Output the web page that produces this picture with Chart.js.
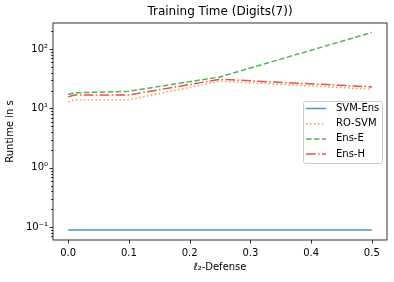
<!DOCTYPE html>
<html>
<head>
<meta charset="utf-8">
<script src="https://cdn.jsdelivr.net/npm/chart.js@4/dist/chart.umd.min.js"></script>
<style>
  html, body { margin: 0; padding: 0; background: #fff; }
  #wrap { width: 394px; height: 282px; }
</style>
</head>
<body>
<div id="wrap"><canvas id="c" width="394" height="282"></canvas></div>
<script>
// values (log y axis, seconds)
const defense  = [0, 0.01, 0.1, 0.25, 0.5];
const svmEns   = [0.09, 0.09, 0.09, 0.09, 0.09];
const roSvm    = [12.9, 14.0, 14.0, 28.8, 21.1];
const ensE     = [17.2, 18.3, 19.5, 34, 191];
const ensH     = [15.7, 16.9, 16.9, 31, 23.1];
const xTicks   = [0, 0.1, 0.2, 0.3, 0.4, 0.5];

const FONT = 'DejaVu Sans';
const sup = { '-': '\u207B', '0': '\u2070', '1': '\u00B9', '2': '\u00B2', '3': '\u00B3' };
const pow10Label = e => '10' + String(e).split('').map(c => sup[c]).join('');

const series = [
  { label: 'SVM-Ens', data: svmEns, color: 'rgba(31,119,180,0.8)',  dash: [] },
  { label: 'RO-SVM',  data: roSvm,  color: 'rgba(255,127,14,0.8)',  dash: [1.5, 2.475] },
  { label: 'Ens-E',   data: ensE,   color: 'rgba(44,160,44,0.8)',   dash: [5.55, 2.4] },
  { label: 'Ens-H',   data: ensH,   color: 'rgba(214,39,40,0.8)',   dash: [9.6, 2.4, 1.5, 2.4] },
];

// frame, tick marks and the in-axes legend, matplotlib style
const mplBits = {
  id: 'mplBits',
  afterDraw(chart) {
    const { ctx, chartArea: a, scales } = chart;
    ctx.save();
    ctx.strokeStyle = '#000';
    ctx.lineWidth = 0.8;
    ctx.strokeRect(a.left, a.top, a.right - a.left, a.bottom - a.top);

    ctx.beginPath();
    scales.x.ticks.forEach(t => {
      const px = Math.round(scales.x.getPixelForValue(t.value)) + 0.5;
      ctx.moveTo(px, a.bottom); ctx.lineTo(px, a.bottom + 3.5);
    });
    scales.y.ticks.forEach(t => {
      const py = Math.round(scales.y.getPixelForValue(t.value)) + 0.5;
      const len = t.major ? 3.5 : 2;
      ctx.moveTo(a.left, py); ctx.lineTo(a.left - len, py);
    });
    ctx.stroke();

    // legend box
    const bx = 303.5, by = 101.5, bw = 79, bh = 62;
    ctx.fillStyle = 'rgba(255,255,255,0.8)';
    ctx.strokeStyle = '#cccccc';
    ctx.lineWidth = 1;
    ctx.beginPath();
    ctx.roundRect(bx, by, bw, bh, 2);
    ctx.fill(); ctx.stroke();

    ctx.font = '10px "' + FONT + '"';
    ctx.textBaseline = 'middle';
    ctx.textAlign = 'left';
    series.forEach((s, i) => {
      const y = 108.5 + i * 15.2;
      ctx.strokeStyle = s.color;
      ctx.lineWidth = 1.5;
      ctx.setLineDash(s.dash);
      ctx.beginPath();
      ctx.moveTo(306, y); ctx.lineTo(326, y);
      ctx.stroke();
      ctx.setLineDash([]);
      ctx.fillStyle = '#000';
      ctx.fillText(s.label, 336, y);
    });
    ctx.restore();
  }
};

new Chart(document.getElementById('c'), {
  type: 'line',
  data: {
    datasets: series.map(s => ({
      label: s.label,
      data: defense.map((x, i) => ({ x, y: s.data[i] })),
      borderColor: s.color,
      borderWidth: 1.5,
      borderDash: s.dash,
      pointRadius: 0,
      tension: 0,
      fill: false,
    })),
  },
  options: {
    responsive: false,
    animation: false,
    layout: { padding: { left: 0, right: 7, top: 0, bottom: 0 } },
    plugins: {
      legend: { display: false },
      tooltip: { enabled: false },
      title: {
        display: true,
        text: 'Training Time (Digits(7))',
        fullSize: false,
        color: '#000',
        font: { family: FONT, size: 12, weight: 'normal' },
        padding: { top: 5, bottom: 3.6 },
      },
    },
    scales: {
      x: {
        type: 'linear',
        min: -0.025,
        max: 0.525,
        grid: { display: false, drawTicks: false, tickLength: 0 },
        border: { display: false },
        afterBuildTicks: sc => { sc.ticks = xTicks.map(v => ({ value: v })); },
        afterFit: sc => { sc.height = 42; },
        ticks: {
          color: '#000',
          padding: 7,
          maxRotation: 0,
          autoSkip: false,
          font: { family: FONT, size: 10 },
          callback: v => v.toFixed(1),
        },
        title: {
          display: true,
          text: '\u2113\u2082-Defense',
          color: '#000',
          font: { family: FONT, size: 10 },
          padding: { top: 0, bottom: 9 },
        },
      },
      y: {
        type: 'logarithmic',
        min: 0.061,
        max: 275,
        grid: { display: false, drawTicks: false, tickLength: 0 },
        border: { display: false },
        afterBuildTicks: sc => {
          const t = [];
          for (let e = -2; e <= 2; e++) {
            for (let m = 1; m <= 9; m++) {
              const v = m * Math.pow(10, e);
              if (v >= sc.min && v <= sc.max) t.push({ value: v, major: m === 1 });
            }
          }
          sc.ticks = t;
        },
        afterFit: sc => { sc.width = 53; },
        ticks: {
          color: '#000',
          padding: 5,
          autoSkip: false,
          font: { family: FONT, size: 10 },
          callback: function (v) {
            const e = Math.round(Math.log10(v));
            return Math.abs(v - Math.pow(10, e)) < 1e-9 * Math.pow(10, e) ? pow10Label(e) : '';
          },
        },
        title: {
          display: true,
          text: 'Runtime in s',
          color: '#000',
          font: { family: FONT, size: 10 },
          padding: { top: 4, bottom: 0 },
        },
      },
    },
  },
  plugins: [mplBits],
});
</script>
</body>
</html>
